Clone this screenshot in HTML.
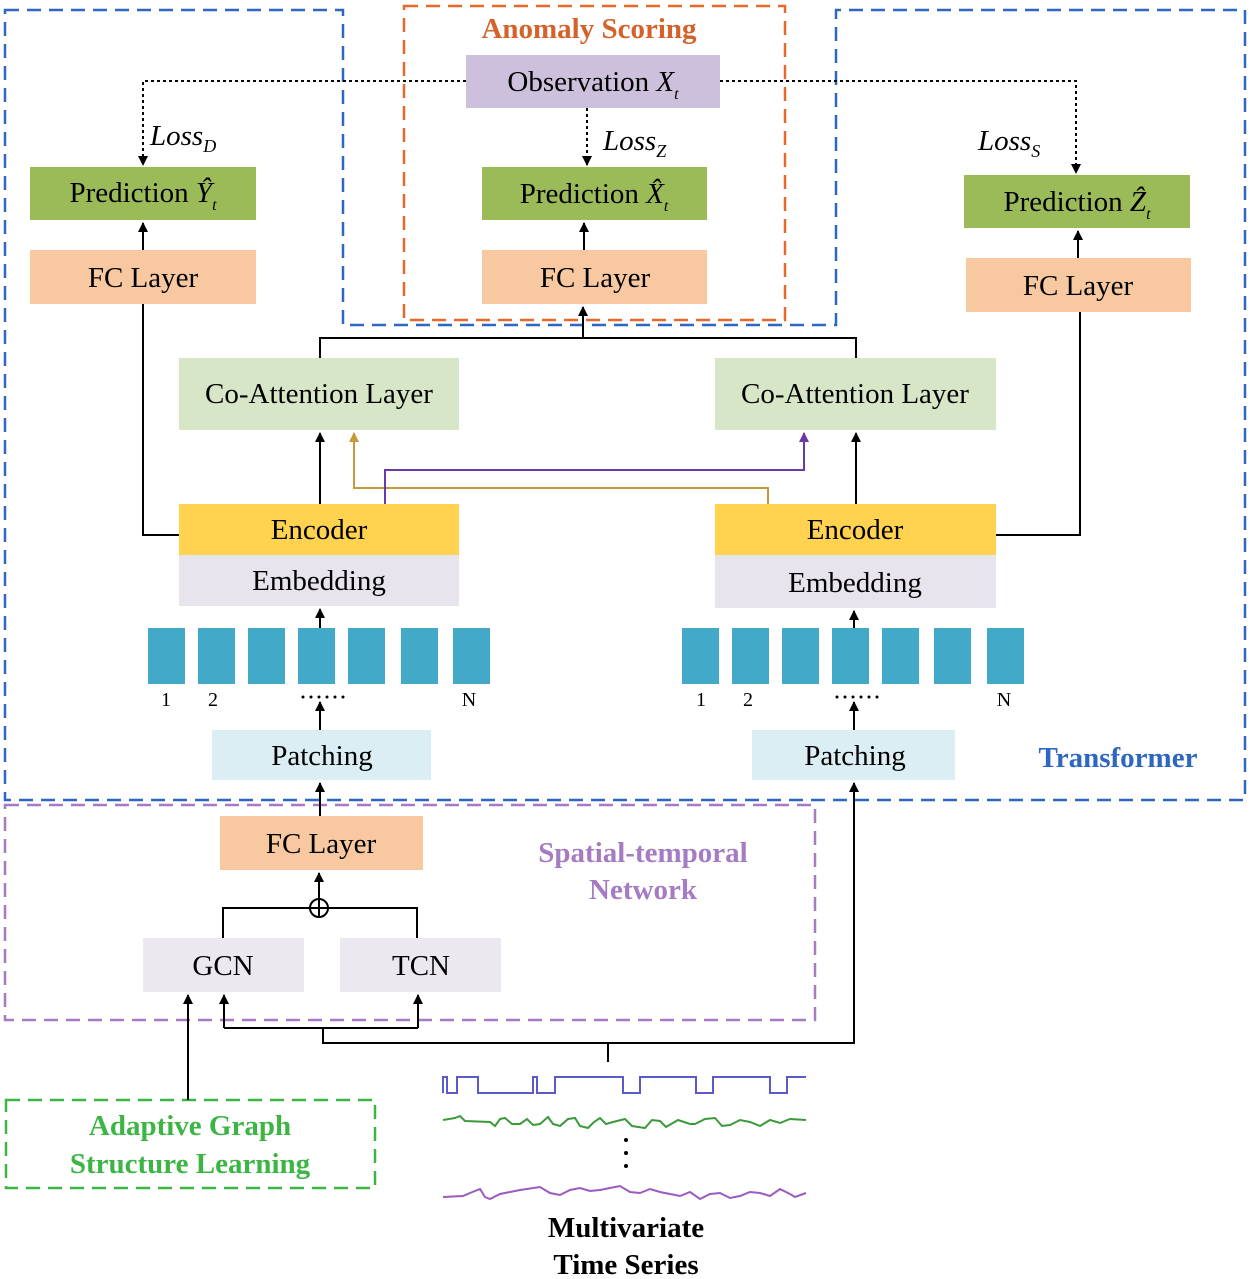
<!DOCTYPE html>
<html><head><meta charset="utf-8"><style>body{margin:0;background:#fff}svg{display:block}text{font-family:"Liberation Serif",serif}</style></head><body>
<svg width="1250" height="1279" viewBox="0 0 1250 1279" xmlns="http://www.w3.org/2000/svg">
<defs>
<marker id="ag" markerWidth="10" markerHeight="10" refX="5" refY="1" orient="0" markerUnits="userSpaceOnUse"><path d="M0,10 L5,0 L10,10Z" fill="#c49a3a"/></marker>
<marker id="ap" markerWidth="10" markerHeight="10" refX="5" refY="1" orient="0" markerUnits="userSpaceOnUse"><path d="M0,10 L5,0 L10,10Z" fill="#6a3aa8"/></marker>
<marker id="u" markerWidth="10" markerHeight="10" refX="5" refY="1" markerUnits="userSpaceOnUse"><path d="M0,10 L5,0 L10,10Z" fill="#000"/></marker>
<marker id="d" markerWidth="10" markerHeight="10" refX="5" refY="9" markerUnits="userSpaceOnUse"><path d="M0,0 L5,10 L10,0Z" fill="#000"/></marker></defs>
<path d="M5,10 H343 V325 H836 V10 H1245 V800 H5 Z" fill="none" stroke="#2e67c0" stroke-width="2.5" stroke-dasharray="14,8"/>
<rect x="404" y="6" width="381" height="314" fill="none" stroke="#e8682a" stroke-width="2.5" stroke-dasharray="14,8"/>
<rect x="5" y="805" width="810" height="215" fill="none" stroke="#a57bc4" stroke-width="2.5" stroke-dasharray="14,8"/>
<rect x="6" y="1100" width="369" height="88" fill="none" stroke="#3cb544" stroke-width="2.5" stroke-dasharray="14,8"/>
<g font-weight="bold" font-size="29" text-anchor="middle">
<text x="589" y="38" fill="#d4622a">Anomaly Scoring</text>
<text x="1118" y="767" fill="#2e67c0">Transformer</text>
<text x="643" y="862" fill="#a57bc4">Spatial-temporal</text>
<text x="643" y="899" fill="#a57bc4">Network</text>
<text x="190" y="1135" fill="#3cb544">Adaptive Graph</text>
<text x="190" y="1173" fill="#3cb544">Structure Learning</text>
<text x="626" y="1237" fill="#000">Multivariate</text>
<text x="626" y="1274" fill="#000">Time Series</text>
</g>
<rect x="466" y="55" width="254" height="53" fill="#ccc0dc"/>
<rect x="30" y="167" width="226" height="53" fill="#9bbb59"/>
<rect x="482" y="167" width="225" height="53" fill="#9bbb59"/>
<rect x="964" y="175" width="226" height="53" fill="#9bbb59"/>
<rect x="30" y="250" width="226" height="54" fill="#f8c9a0"/>
<rect x="482" y="250" width="225" height="54" fill="#f8c9a0"/>
<rect x="966" y="258" width="225" height="54" fill="#f8c9a0"/>
<rect x="179" y="358" width="280" height="72" fill="#d8e6c8"/>
<rect x="715" y="358" width="281" height="72" fill="#d8e6c8"/>
<rect x="179" y="504" width="280" height="51" fill="#ffd34f"/>
<rect x="179" y="555" width="280" height="51" fill="#e8e4ee"/>
<rect x="715" y="504" width="281" height="51" fill="#ffd34f"/>
<rect x="715" y="555" width="281" height="53" fill="#e8e4ee"/>
<g fill="#43a9c8">
<rect x="148" y="628" width="37" height="56"/><rect x="198" y="628" width="37" height="56"/><rect x="248" y="628" width="37" height="56"/><rect x="298" y="628" width="37" height="56"/><rect x="348" y="628" width="37" height="56"/><rect x="401" y="628" width="37" height="56"/><rect x="453" y="628" width="37" height="56"/>
<rect x="682" y="628" width="37" height="56"/><rect x="732" y="628" width="37" height="56"/><rect x="782" y="628" width="37" height="56"/><rect x="832" y="628" width="37" height="56"/><rect x="882" y="628" width="37" height="56"/><rect x="934" y="628" width="37" height="56"/><rect x="987" y="628" width="37" height="56"/>
</g>
<rect x="212" y="730" width="219" height="50" fill="#daeef3"/>
<rect x="752" y="730" width="203" height="50" fill="#daeef3"/>
<rect x="220" y="816" width="203" height="54" fill="#f8c9a0"/>
<rect x="143" y="938" width="161" height="54" fill="#ebe8ef"/>
<rect x="340" y="938" width="161" height="54" fill="#ebe8ef"/>
<g font-size="29" text-anchor="middle" fill="#000">
<text x="593" y="91">Observation <tspan font-style="italic">X</tspan><tspan font-size="16" font-style="italic" dy="8">t</tspan></text>
<text x="143" y="202">Prediction <tspan font-style="italic">Ŷ</tspan><tspan font-size="16" font-style="italic" dy="8">t</tspan></text>
<text x="594" y="203">Prediction <tspan font-style="italic">X̂</tspan><tspan font-size="16" font-style="italic" dy="8">t</tspan></text>
<text x="1077" y="211">Prediction <tspan font-style="italic">Ẑ</tspan><tspan font-size="16" font-style="italic" dy="8">t</tspan></text>
<text x="143" y="287">FC Layer</text><text x="595" y="287">FC Layer</text><text x="1078" y="295">FC Layer</text>
<text x="319" y="403">Co-Attention Layer</text><text x="855" y="403">Co-Attention Layer</text>
<text x="319" y="539">Encoder</text><text x="319" y="590">Embedding</text>
<text x="855" y="539">Encoder</text><text x="855" y="592">Embedding</text>
<text x="322" y="765">Patching</text><text x="855" y="765">Patching</text>
<text x="321" y="853">FC Layer</text>
<text x="223" y="975">GCN</text><text x="421" y="975">TCN</text>
</g>
<g font-size="29" font-style="italic">
<text x="150" y="145">Loss<tspan font-size="18" dy="7">D</tspan></text>
<text x="603" y="150">Loss<tspan font-size="18" dy="7">Z</tspan></text>
<text x="978" y="150">Loss<tspan font-size="18" dy="7">S</tspan></text>
</g>
<g font-size="20" text-anchor="middle">
<text x="166" y="706">1</text><text x="213" y="706">2</text><text x="469" y="706">N</text>
<text x="701" y="706">1</text><text x="748" y="706">2</text><text x="1004" y="706">N</text>
</g>
<g fill="#000"><circle cx="303" cy="697" r="1.5"/><circle cx="311" cy="697" r="1.5"/><circle cx="319" cy="697" r="1.5"/><circle cx="327" cy="697" r="1.5"/><circle cx="335" cy="697" r="1.5"/><circle cx="343" cy="697" r="1.5"/>
<circle cx="837" cy="697" r="1.5"/><circle cx="845" cy="697" r="1.5"/><circle cx="853" cy="697" r="1.5"/><circle cx="861" cy="697" r="1.5"/><circle cx="869" cy="697" r="1.5"/><circle cx="877" cy="697" r="1.5"/>
<circle cx="626" cy="1140" r="2"/><circle cx="626" cy="1153" r="2"/><circle cx="626" cy="1166" r="2"/></g>
<g fill="none" stroke="#000" stroke-width="2" stroke-dasharray="3,3">
<path d="M466,81 H143 V165" marker-end="url(#d)"/>
<path d="M720,81 H1076 V173" marker-end="url(#d)"/>
<path d="M587,108 V165" marker-end="url(#d)"/>
</g>
<g fill="none" stroke="#000" stroke-width="2">
<path d="M143,250 V223" marker-end="url(#u)"/>
<path d="M584,250 V223" marker-end="url(#u)"/>
<path d="M1078,258 V231" marker-end="url(#u)"/>
<path d="M179,535 H143 V304"/>
<path d="M996,535 H1080 V312"/>
<path d="M320,358 V338 H856 V358"/>
<path d="M583,338 V307" marker-end="url(#u)"/>
<path d="M320,504 V433" marker-end="url(#u)"/>
<path d="M856,504 V433" marker-end="url(#u)"/>
<path d="M320,628 V609" marker-end="url(#u)"/>
<path d="M854,628 V611" marker-end="url(#u)"/>
<path d="M320,730 V702" marker-end="url(#u)"/>
<path d="M854,730 V702" marker-end="url(#u)"/>
<path d="M320,816 V783" marker-end="url(#u)"/>
<path d="M319,899 V873" marker-end="url(#u)"/>
<path d="M223,938 V908 H417 V938"/>
<path d="M224,1028 H418"/>
<path d="M224,1028 V995" marker-end="url(#u)"/>
<path d="M418,1028 V995" marker-end="url(#u)"/>
<path d="M323,1028 V1043 H854 V783" marker-end="url(#u)"/>
<path d="M608,1043 V1062"/>
<path d="M188,1100 V995" marker-end="url(#u)"/>
<circle cx="319" cy="908" r="9" fill="#fff"/>
<path d="M310,908 H328 M319,899 V917"/>
</g>
<path d="M768,504 V488 H354 V433" fill="none" stroke="#c49a3a" stroke-width="2" marker-end="url(#ag)"/>
<path d="M385,504 V470 H804 V433" fill="none" stroke="#6a3aa8" stroke-width="2" marker-end="url(#ap)"/>
<path d="M443,1093 V1077 H447 V1093 H457 V1077 H478 V1093 H533 V1077 H537 V1093 H555 V1077 H623 V1093 H640 V1077 H696 V1093 H713 V1077 H770 V1093 H787 V1077 H806" fill="none" stroke="#5a5ac8" stroke-width="2"/>
<path d="M443,1120 L455,1118 L460,1116 L465,1121 L490,1122 L495,1126 L500,1119 L505,1118 L512,1124 L520,1124 L527,1119 L533,1125 L540,1124 L548,1117 L553,1124 L560,1126 L568,1119 L575,1118 L580,1126 L588,1128 L594,1122 L600,1118 L606,1124 L613,1122 L625,1119 L632,1126 L645,1128 L652,1120 L660,1121 L666,1127 L678,1120 L690,1124 L695,1124 L705,1119 L715,1118 L722,1126 L730,1125 L740,1120 L750,1122 L760,1126 L770,1120 L780,1123 L790,1119 L806,1120" fill="none" stroke="#3a9a3a" stroke-width="2"/>
<path d="M443,1197 L463,1196 L470,1193 L480,1189 L485,1197 L490,1199 L500,1194 L510,1192 L520,1190 L540,1187 L550,1193 L560,1195 L570,1190 L580,1188 L590,1191 L600,1190 L610,1188 L620,1186 L630,1192 L640,1193 L650,1189 L660,1192 L670,1194 L680,1196 L690,1192 L700,1199 L710,1194 L720,1193 L730,1198 L740,1196 L750,1192 L760,1193 L770,1196 L780,1189 L790,1194 L795,1197 L806,1193" fill="none" stroke="#9a5ac0" stroke-width="2"/>
</svg>
</body></html>
